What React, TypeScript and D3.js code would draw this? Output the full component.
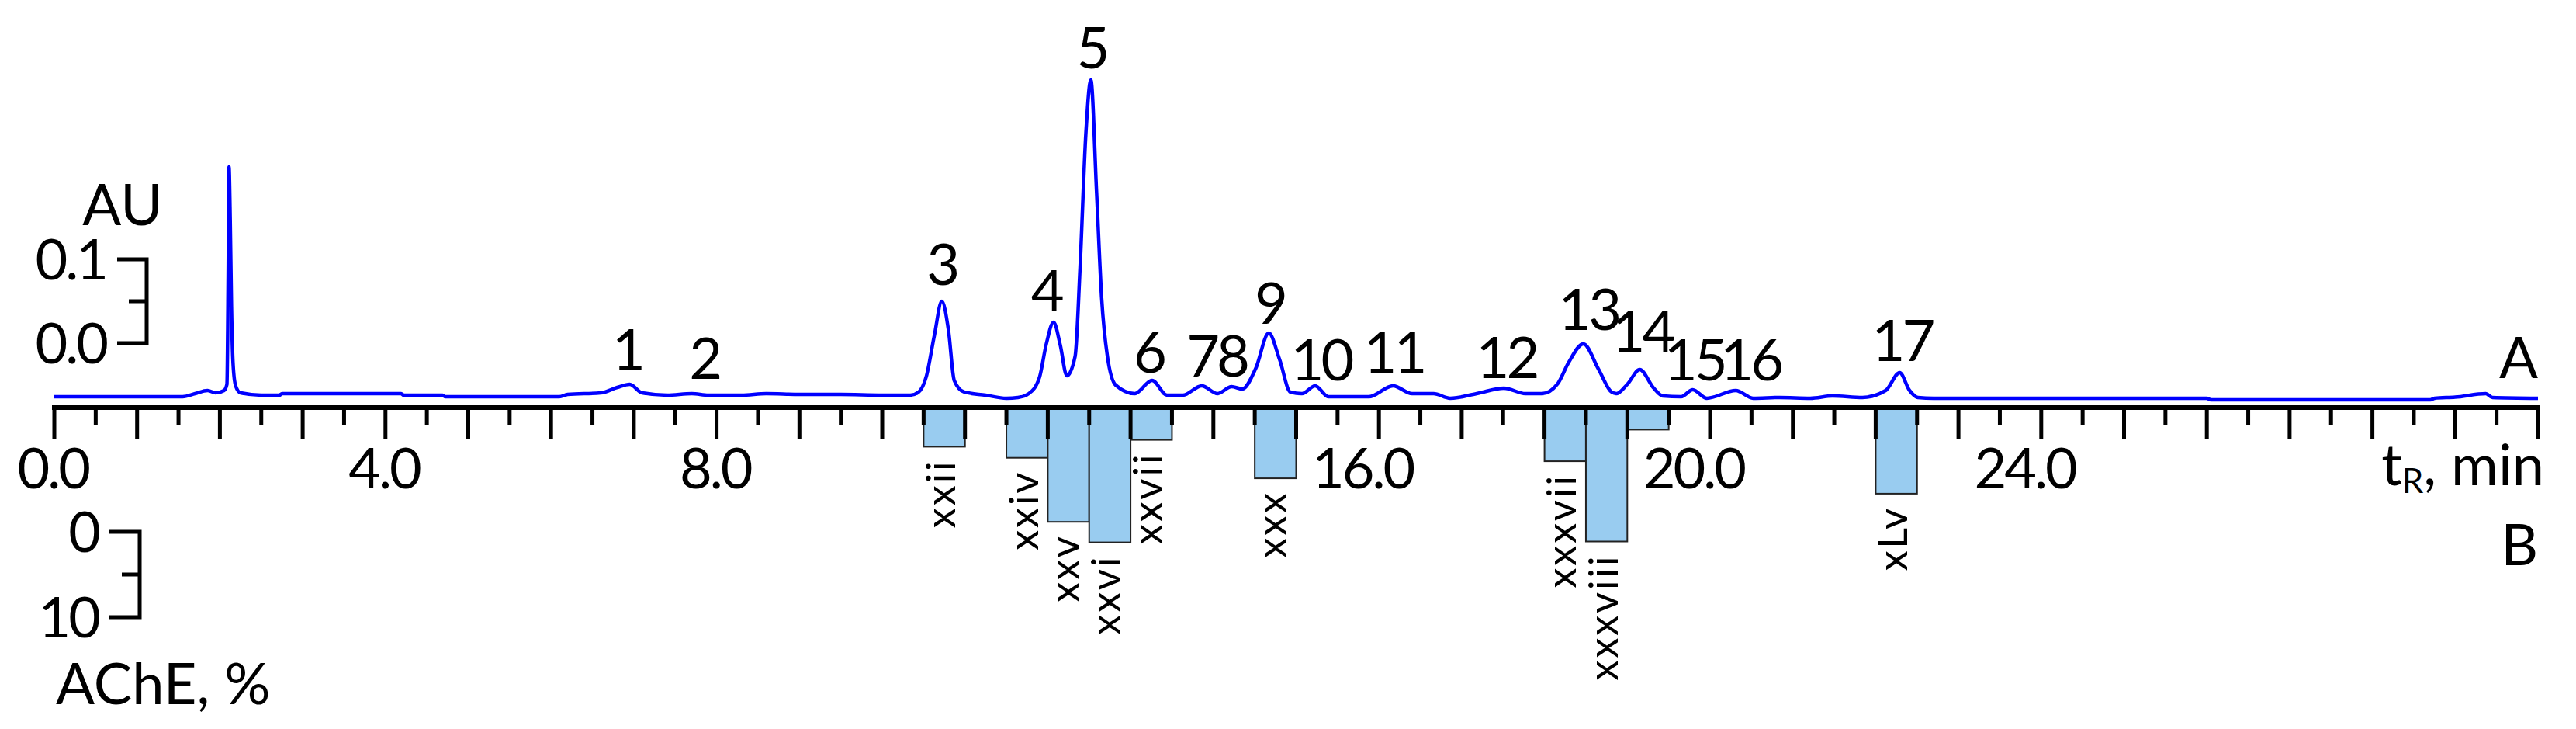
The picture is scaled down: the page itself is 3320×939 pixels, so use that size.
import * as d3 from "d3";
import React from "react";

const W = 3320;
const H = 939;

// chromatogram A: retention time (min) and absorbance (AU)
const traceTime = [
  0, 1.55, 1.7, 1.85, 1.95, 2.05, 2.085, 2.1, 2.11, 2.125, 2.14, 2.16, 2.19, 2.25, 2.5,
  2.72, 2.75, 4.19, 4.22, 4.69, 4.72, 6.1, 6.2, 6.6, 6.8, 6.95, 7.1, 7.4, 7.7, 7.9, 8.3,
  8.6, 9.0, 9.5, 10.0, 10.34, 10.44, 10.53, 10.63, 10.72, 10.8, 10.87, 10.99, 11.25, 11.5,
  11.64, 11.77, 11.9, 11.98, 12.07, 12.15, 12.23, 12.33, 12.39, 12.46, 12.52, 12.59, 12.65,
  12.72, 12.82, 13.05, 13.26, 13.44, 13.63, 13.86, 14.05, 14.22, 14.35, 14.51, 14.67, 14.8,
  14.93, 15.07, 15.23, 15.39, 15.88, 16.17, 16.4, 16.66, 16.86, 17.18, 17.51, 17.77, 17.97,
  18.16, 18.29, 18.47, 18.65, 18.81, 18.87, 19.0, 19.15, 19.32, 19.43, 19.65, 19.79, 19.96,
  20.31, 20.52, 20.84, 21.21, 21.48, 21.84, 22.12, 22.29, 22.41, 22.51, 22.7, 26.0, 26.05,
  28.7, 28.75, 29.0, 29.37, 29.45, 30.0,
];
const traceAU = [
  0.0037, 0.0037, 0.0074, 0.0111, 0.0083, 0.0111, 0.0185, 0.1481, 0.2778, 0.213, 0.1111,
  0.0417, 0.0167, 0.0083, 0.0056, 0.0056, 0.0074, 0.0074, 0.0056, 0.0056, 0.0037, 0.0037,
  0.0065, 0.0083, 0.0148, 0.0185, 0.0083, 0.0056, 0.0074, 0.0056, 0.0056, 0.0074, 0.0065,
  0.0065, 0.0056, 0.0056, 0.0093, 0.0269, 0.0769, 0.1176, 0.0833, 0.0231, 0.0093, 0.0056,
  0.0019, 0.0028, 0.0074, 0.0269, 0.0657, 0.0926, 0.0657, 0.0287, 0.0519, 0.1583, 0.3176,
  0.3815, 0.2463, 0.1222, 0.0519, 0.0176, 0.0074, 0.0231, 0.0056, 0.0056, 0.0167, 0.0074,
  0.0157, 0.013, 0.037, 0.0796, 0.0481, 0.0093, 0.0074, 0.0167, 0.0037, 0.0037, 0.0167,
  0.0074, 0.0074, 0.0019, 0.0074, 0.0139, 0.0074, 0.0074, 0.0194, 0.0444, 0.0667, 0.037,
  0.0093, 0.0074, 0.0185, 0.0361, 0.0139, 0.0046, 0.0037, 0.012, 0.0019, 0.0111, 0.0019,
  0.0028, 0.0019, 0.0046, 0.0028, 0.0111, 0.0324, 0.0111, 0.0028, 0.0019, 0.0019, 0.0,
  0.0, 0.0019, 0.0032, 0.0074, 0.0028, 0.0019,
];

// numbered peaks: label, retention time, label height (AU)
const peakNames = ["1", "2", "3", "4", "5", "6", "78", "9", "10", "11", "12", "13", "14", "15", "16", "17"];
const peakLabelTime = [6.92, 7.85, 10.72, 11.98, 12.53, 13.22, 14.04, 14.68, 15.3, 16.18, 17.54, 18.53, 19.18, 19.81, 20.49, 22.32];
const peakLabelAU = [0.035, 0.025, 0.137, 0.106, 0.395, 0.032, 0.028, 0.091, 0.023, 0.032, 0.026, 0.083, 0.057, 0.023, 0.023, 0.046];

// B: AChE inhibition of the collected fractions (0.5 min each)
const fractionNames = ["xxii", "xxiv", "xxv", "xxvi", "xxvii", "xxx", "xxxvii", "xxxviii", "", "xLv"];
const fractionStart = [10.5, 11.5, 12.0, 12.5, 13.0, 14.5, 18.0, 18.5, 19.0, 22.0];
const acheInhibition = [4.4, 5.7, 13.2, 15.6, 3.6, 8.1, 6.1, 15.5, 2.4, 9.9];

const tickLabels = [0, 4, 8, 16, 20, 24];

const FONT = "Lato, 'Open Sans', sans-serif";

export default function App() {
  const x = d3.scaleLinear().domain([0, 30]).range([70, 3271]);
  const y = d3.scaleLinear().domain([0, 0.1]).range([515, 407]);
  const yBar = d3.scaleLinear().domain([0, 10]).range([527, 637]);
  // scale bars at the left
  const auBar = d3.scaleLinear().domain([0, 0.1]).range([442, 334]);
  const acheBar = d3.scaleLinear().domain([0, 10]).range([685, 795]);

  const axisY = 525;
  const ticks = d3.range(0, 30.001, 0.5);

  const line = d3
    .line<number>()
    .x((_, i) => x(traceTime[i]))
    .y((d) => y(d))
    .curve(d3.curveMonotoneX);

  const bigFont = 74;

  return (
    <svg
      width={W}
      height={H}
      style={{ position: "absolute", left: 0, top: 0, background: "#fff" }}
      fontFamily={FONT}
    >
      <rect width={W} height={H} fill="#fff" />

      {/* fraction bars */}
      {fractionStart.map((t, i) => (
        <rect
          key={"b" + i}
          x={x(t)}
          y={yBar(0)}
          width={x(t + 0.5) - x(t)}
          height={yBar(acheInhibition[i]) - yBar(0)}
          fill="#99CCF0"
          stroke="#222"
          strokeWidth={2}
        />
      ))}
      {fractionStart.map((t, i) => (
        <text
          key={"bl" + i}
          transform={`translate(${x(t + 0.25)},${yBar(acheInhibition[i]) + 16}) rotate(-90)`}
          textAnchor="end"
          dy="0.27em"
          fontSize={52}
          letterSpacing={3}
        >
          {fractionNames[i]}
        </text>
      ))}

      {/* time axis */}
      <line x1={x(0) - 3} x2={x(30) + 2} y1={axisY} y2={axisY} stroke="#000" strokeWidth={6} />
      {ticks.map((t) => (
        <line
          key={"t" + t}
          x1={x(t)}
          x2={x(t)}
          y1={axisY}
          y2={Number.isInteger(t) ? 565 : 548}
          stroke="#000"
          strokeWidth={5}
        />
      ))}
      {tickLabels.map((t) => (
        <text
          key={"tl" + t}
          x={x(t) + 0.695 * 72 - 6}
          y={629}
          textAnchor="end"
          fontSize={72}
          letterSpacing={-3}
        >
          {t.toFixed(1)}
        </text>
      ))}
      <text x={3279} y={625} textAnchor="end" fontSize={bigFont}>
        t
        <tspan fontSize={44} dy={10}>
          R
        </tspan>
        <tspan dy={-10}>, min</tspan>
      </text>

      {/* trace */}
      <path d={line(traceAU) ?? ""} fill="none" stroke="#0000FF" strokeWidth={4.5} strokeLinejoin="round" />

      {peakNames.map((p, i) => (
        <text
          key={"p" + i}
          x={x(peakLabelTime[i])}
          y={y(peakLabelAU[i])}
          textAnchor="middle"
          fontSize={bigFont}
          letterSpacing={-4}
        >
          {p}
        </text>
      ))}

      <text x={3271} y={487} textAnchor="end" fontSize={bigFont}>
        A
      </text>
      <text x={3271} y={728} textAnchor="end" fontSize={bigFont}>
        B
      </text>

      {/* AU scale bar */}
      <text x={158} y={290} textAnchor="middle" fontSize={bigFont}>
        AU
      </text>
      <path
        d={`M151,${auBar(0.1)}H189V${auBar(0)}H151M166,${auBar(0.05)}H189`}
        fill="none"
        stroke="#000"
        strokeWidth={5}
      />
      {[0.1, 0].map((v) => (
        <text key={"au" + v} x={137} y={auBar(v)} dy="0.36em" textAnchor="end" fontSize={72} letterSpacing={-3}>
          {v.toFixed(1)}
        </text>
      ))}

      {/* AChE scale bar */}
      <path
        d={`M140,${acheBar(0)}H180V${acheBar(10)}H140M157,${acheBar(5)}H180`}
        fill="none"
        stroke="#000"
        strokeWidth={5}
      />
      {[0, 10].map((v) => (
        <text key={"ac" + v} x={127} y={acheBar(v)} dy="0.36em" textAnchor="end" fontSize={72} letterSpacing={-3}>
          {v}
        </text>
      ))}
      <text x={72} y={907} fontSize={bigFont}>
        AChE, %
      </text>
    </svg>
  );
}
